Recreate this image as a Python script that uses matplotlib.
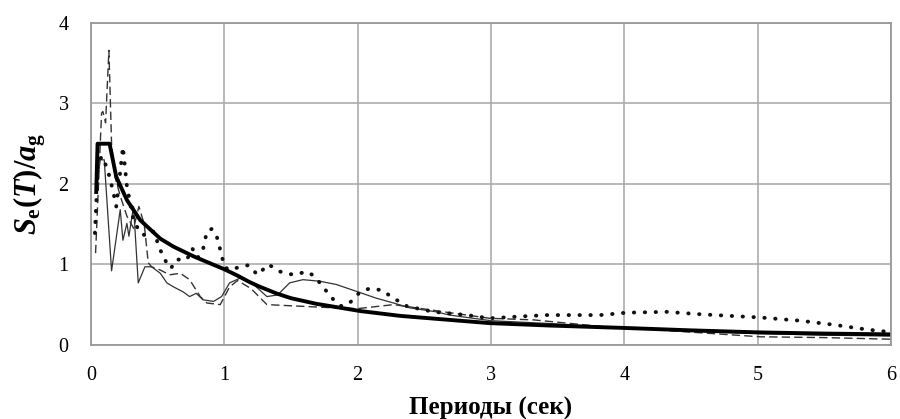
import matplotlib
matplotlib.use("Agg")
import matplotlib.pyplot as plt

plt.rcParams["font.family"] = ["Liberation Serif", "DejaVu Serif"]
plt.rcParams["mathtext.fontset"] = "custom"
plt.rcParams["mathtext.rm"] = "Liberation Serif:bold"
plt.rcParams["mathtext.it"] = "Liberation Serif:italic:bold"
plt.rcParams["mathtext.bf"] = "Liberation Serif:bold"

# ---- design spectrum (thick solid)
t_design = [0.04, 0.05, 0.14, 0.19, 0.27, 0.37, 0.52, 0.62, 0.77, 0.87, 1.0, 1.1, 1.19,
            1.27, 1.39, 1.5, 1.69, 2.02, 2.32, 2.69, 2.99, 3.44, 4.0, 4.5, 5.0, 5.5, 6.0]
v_design = [1.9, 2.5, 2.5, 2.09, 1.80, 1.55, 1.32, 1.22, 1.10, 1.03, 0.94, 0.86, 0.78,
            0.72, 0.64, 0.58, 0.51, 0.42, 0.36, 0.31, 0.27, 0.24, 0.21, 0.18, 0.155, 0.14, 0.13]

# ---- record 1 (thin solid)
t_rec1 = [0.04, 0.07, 0.1, 0.155, 0.22, 0.24, 0.27, 0.285, 0.32, 0.355, 0.405, 0.455,
          0.52, 0.57, 0.62, 0.69, 0.74, 0.79, 0.84, 0.92, 0.98, 1.04, 1.12, 1.22, 1.32,
          1.40, 1.49, 1.59, 1.72, 1.84, 2.0, 2.14, 2.27, 2.39, 2.59, 2.69, 3.0, 3.5,
          4.0, 4.5, 5.0, 5.5, 6.0]
v_rec1 = [1.95, 2.3, 2.3, 0.92, 1.68, 1.3, 1.51, 1.35, 1.72, 0.77, 0.97, 0.97,
          0.89, 0.77, 0.72, 0.66, 0.6, 0.64, 0.56, 0.54, 0.6, 0.77, 0.83, 0.75, 0.6,
          0.62, 0.77, 0.81, 0.79, 0.75, 0.66, 0.58, 0.52, 0.46, 0.41, 0.37, 0.30, 0.26,
          0.21, 0.17, 0.14, 0.12, 0.11]

# ---- record 2 (dashed)
t_rec2 = [0.035, 0.08, 0.09, 0.11, 0.135, 0.155, 0.18, 0.22, 0.27, 0.32, 0.36, 0.40,
          0.43, 0.455, 0.52, 0.59, 0.67, 0.74, 0.82, 0.87, 0.97, 1.04, 1.1, 1.2, 1.32,
          1.57, 1.82, 2.0, 2.27, 2.44, 2.69, 2.99, 3.32, 3.82, 4.02, 4.57, 5.02, 5.5, 6.0]
v_rec2 = [1.14, 2.88, 2.9, 2.76, 3.66, 2.5, 2.09, 1.85, 1.6, 1.45, 1.72, 1.5,
          1.02, 0.97, 0.93, 0.87, 0.89, 0.81, 0.6, 0.52, 0.50, 0.72, 0.8, 0.7, 0.5,
          0.48, 0.46, 0.45, 0.50, 0.46, 0.40, 0.33, 0.31, 0.23, 0.21, 0.15, 0.10, 0.09, 0.07]

# ---- record 3 (dotted)
t_rec3 = [0.03, 0.055, 0.09, 0.14, 0.17, 0.19, 0.21, 0.24, 0.27, 0.32, 0.37, 0.42,
          0.47, 0.52, 0.57, 0.6, 0.64, 0.72, 0.76, 0.80, 0.84, 0.87, 0.905, 0.94, 0.98,
          1.0, 1.04, 1.12, 1.18, 1.25, 1.33, 1.42, 1.52, 1.62, 1.68, 1.74, 1.82, 1.88,
          1.94, 2.02, 2.09, 2.18, 2.27, 2.37, 2.57, 2.82, 2.99, 3.19, 3.42, 3.57, 3.82,
          4.02, 4.32, 4.57, 5.02, 5.32, 5.57, 5.82, 5.99]
v_rec3 = [1.39, 2.3, 2.34, 2.09, 1.88, 1.72, 2.0, 2.46, 1.97, 1.55, 1.39, 1.35,
          1.41, 1.18, 1.01, 0.95, 1.06, 1.06, 1.2, 1.08, 1.18, 1.41, 1.44, 1.37, 1.12,
          0.97, 0.93, 0.97, 0.99, 0.87, 1.0, 0.91, 0.87, 0.91, 0.85, 0.72, 0.56, 0.48,
          0.52, 0.66, 0.70, 0.68, 0.58, 0.48, 0.41, 0.37, 0.33, 0.35, 0.37, 0.37, 0.37,
          0.40, 0.41, 0.38, 0.34, 0.30, 0.25, 0.19, 0.16]

fig = plt.figure(figsize=(9, 4.19), dpi=100)
ax = fig.add_axes([0.101, 0.177, 0.889, 0.768])

ax.plot(t_rec1, v_rec1, color="#333333", lw=0.9)
ax.plot(t_rec2, v_rec2, color="#333333", lw=1.0, linestyle=(0, (6, 3)))
ax.plot(t_rec3, v_rec3, color="#111111", lw=2.8, linestyle=(0, (0.1, 2.7)),
        dash_capstyle="round")
ax.plot(t_design, v_design, color="black", lw=2.8, solid_joinstyle="round")

ax.set_xlim(0, 6)
ax.set_ylim(0, 4)
ax.set_xticks(range(0, 7))
ax.set_yticks(range(0, 5))
ax.grid(True, color="#a6a6a6", lw=1.1)
ax.set_axisbelow(True)
for s in ax.spines.values():
    s.set_color("#999999")
    s.set_linewidth(1.3)
ax.tick_params(length=0, labelsize=14.5, pad=15)
ax.tick_params(axis="y", pad=16)

ax.set_xlabel("Периоды (сек)", fontsize=18, fontweight="bold", labelpad=9)
ax.set_ylabel(r"$S_{\mathrm{e}}\mathrm{(}T\mathrm{)/}a_{\mathrm{g}}$", fontsize=22, labelpad=10)
ax.yaxis.set_label_coords(-0.054, 0.5)

fig.savefig("out.png", dpi=100)
